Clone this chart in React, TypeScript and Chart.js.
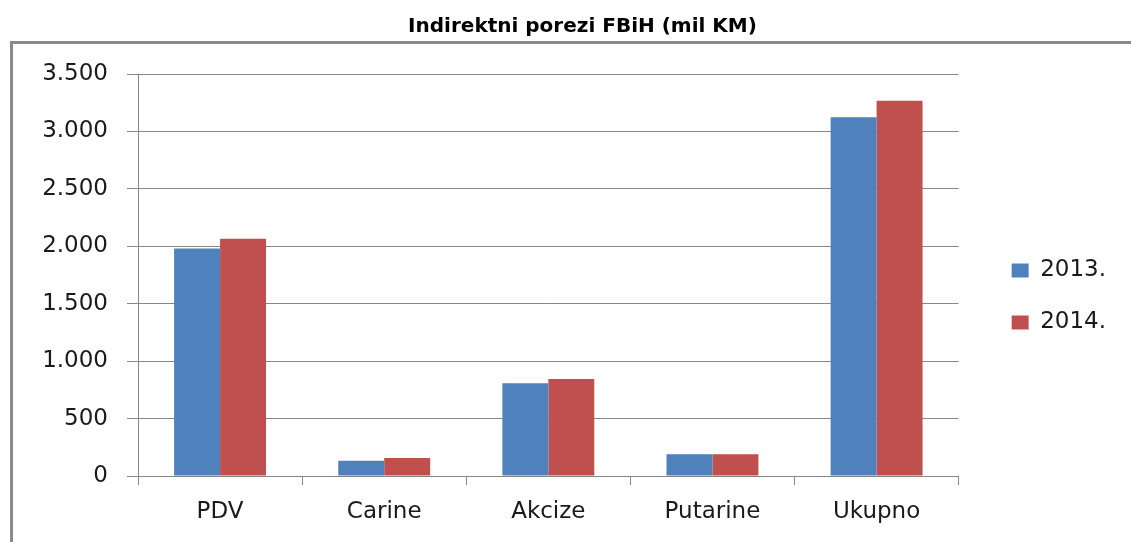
import React, { useEffect, useRef } from "react";
import { Chart, registerables } from "chart.js";

Chart.register(...registerables);

const categories = ["PDV", "Carine", "Akcize", "Putarine", "Ukupno"];
const series2013 = [1980, 133, 807, 189, 3123];
const series2014 = [2065, 157, 845, 189, 3268];
const seriesLabels = ["2013.", "2014."];
const yMin = 0;
const yMax = 3500;
const yStep = 500;

const formatThousands = (v: number) =>
  String(Math.round(v)).replace(/\B(?=(\d{3})+(?!\d))/g, ".");

const AXIS_FONT = "'DejaVu Sans', sans-serif";
const GRID = "#878787";
const TEXT = "#1a1a1a";

const titleShift = {
  id: "titleShift",
  afterLayout(chart: any) {
    const t = chart.titleBlock;
    if (t) {
      t.left += 8;
      t.right += 8;
    }
  },
};

export default function App() {
  const ref = useRef<HTMLCanvasElement | null>(null);

  useEffect(() => {
    if (!ref.current) return;
    const chart = new Chart(ref.current, {
      type: "bar",
      data: {
        labels: categories,
        datasets: [
          {
            label: seriesLabels[0],
            data: series2013,
            backgroundColor: "#4F81BD",
            borderWidth: 0,
          },
          {
            label: seriesLabels[1],
            data: series2014,
            backgroundColor: "#C0504D",
            borderWidth: 0,
          },
        ],
      },
      plugins: [titleShift],
      options: {
        animation: false,
        responsive: false,
        devicePixelRatio: 1,
        layout: { padding: { left: 33, right: 15, top: 0, bottom: 0 } },
        datasets: {
          bar: { categoryPercentage: 0.56, barPercentage: 1.0 },
        },
        plugins: {
          title: {
            display: true,
            text: "Indirektni porezi FBiH (mil KM)",
            color: "#000",
            font: { family: AXIS_FONT, size: 20, weight: "bold", lineHeight: 1.2 },
            padding: { top: 15, bottom: 35 },
          },
          legend: {
            display: true,
            position: "right",
            title: {
              display: true,
              text: "",
              font: { size: 10, lineHeight: 1.2 },
              padding: { top: 39, bottom: 0 },
            },
            labels: {
              font: { family: AXIS_FONT, size: 23 },
              color: TEXT,
              boxWidth: 17,
              boxHeight: 14,
              padding: 29,
            },
          },
          tooltip: { enabled: false },
        },
        scales: {
          x: {
            offset: true,
            grid: {
              display: true,
              drawOnChartArea: false,
              drawTicks: true,
              tickLength: 9,
              color: GRID,
              offset: true,
            },
            border: { display: true, color: GRID },
            ticks: {
              color: TEXT,
              font: { family: AXIS_FONT, size: 23 },
              padding: 13,
              maxRotation: 0,
            },
            afterFit: (s: any) => {
              s.height = 66;
            },
          },
          y: {
            min: yMin,
            max: yMax,
            grid: { color: GRID, tickLength: 11, drawTicks: true },
            border: { display: true, color: GRID },
            ticks: {
              stepSize: yStep,
              color: TEXT,
              font: { family: AXIS_FONT, size: 23 },
              padding: 19,
              callback: (v: any) => formatThousands(Number(v)),
            },
            afterFit: (s: any) => {
              s.width = 105;
            },
          },
          y2: {
            type: "linear",
            position: "right",
            display: true,
            grid: { display: false, drawTicks: false },
            border: { display: false },
            ticks: { display: false },
            afterFit: (s: any) => {
              s.width = 24;
            },
          },
        },
      },
    });
    return () => chart.destroy();
  }, []);

  return (
    <div style={{ position: "absolute", left: 0, top: 0, width: 1131, height: 542, background: "#fff" }}>
      <div
        style={{
          position: "absolute",
          left: 10,
          top: 41,
          width: 1121,
          height: 501,
          borderTop: "3px solid #8a8a8a",
          borderLeft: "3px solid #8a8a8a",
          boxSizing: "border-box",
        }}
      />
      <canvas ref={ref} width={1131} height={542} style={{ position: "absolute", left: 0, top: 0 }} />
    </div>
  );
}
